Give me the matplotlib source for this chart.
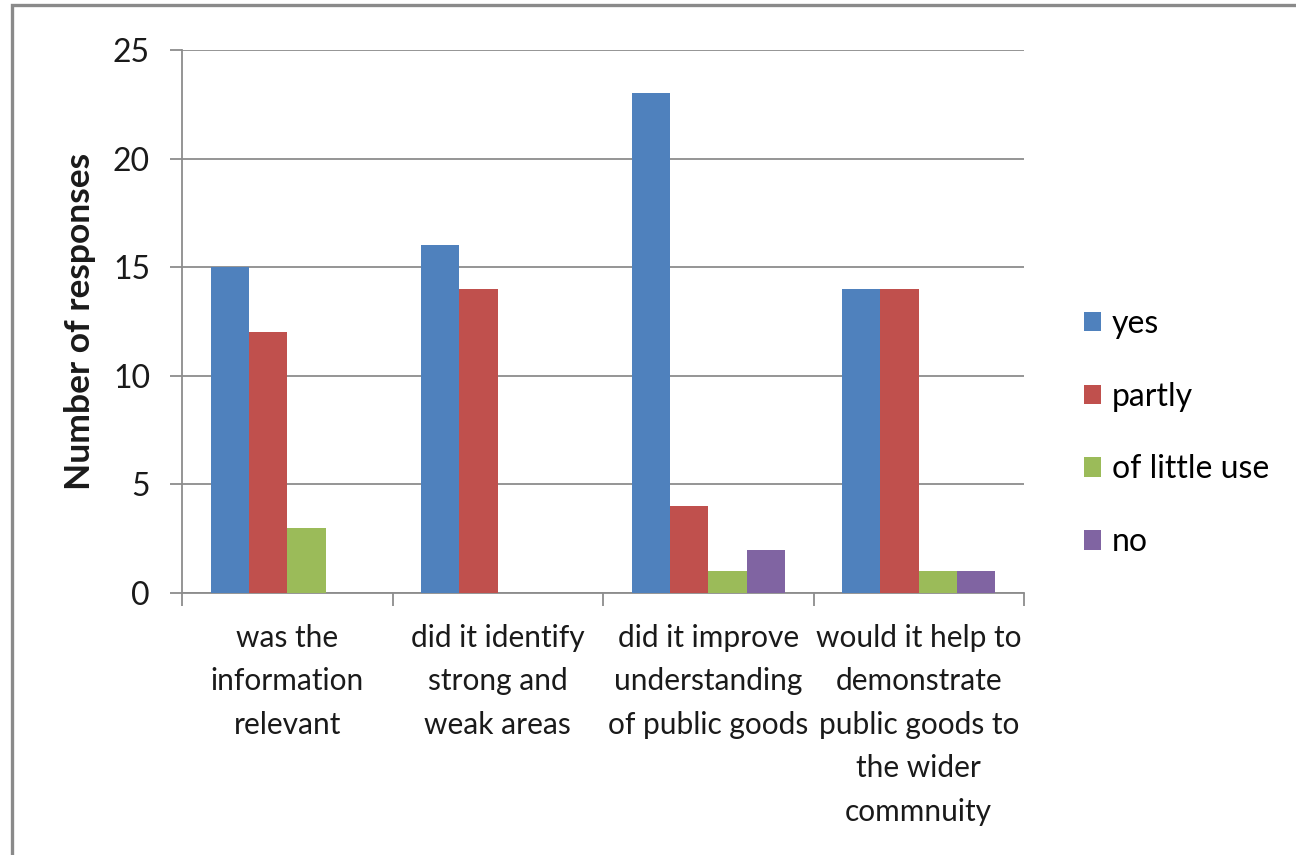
import matplotlib
matplotlib.use("Agg")
import matplotlib.pyplot as plt
from matplotlib.patches import Rectangle
import numpy as np

categories = [
    "was the\ninformation\nrelevant",
    "did it identify\nstrong and\nweak areas",
    "did it improve\nunderstanding\nof public goods",
    "would it help to\ndemonstrate\npublic goods to\nthe wider\ncommnuity",
]
series_names = ["yes", "partly", "of little use", "no"]
yes = [15, 16, 23, 14]
partly = [12, 14, 4, 14]
little_use = [3, 0, 1, 1]
no = [0, 0, 2, 1]
y_ticks = [0, 5, 10, 15, 20, 25]

colors = ["#4F81BD", "#C0504D", "#9BBB59", "#8064A2"]

plt.rcParams["font.family"] = ["Lato", "DejaVu Sans"]
FS_TICK = 23
FS_CAT = 21.5
FS_LEG = 23
FS_YLAB = 25.5

fig = plt.figure(figsize=(12.96, 8.55), dpi=100)
ax = fig.add_axes([182 / 1296, 1 - 593 / 855, 842 / 1296, 543 / 855])

x = np.arange(len(categories))
n = len(series_names)
w = 1 / (n + 1.5)
for i, (name, vals, c) in enumerate(zip(series_names, [yes, partly, little_use, no], colors)):
    ax.bar(x + (i - (n - 1) / 2) * w, vals, width=w, color=c, label=name,
           edgecolor="none", zorder=3)

ax.set_xlim(-0.5, len(categories) - 0.5)
ax.set_ylim(0, 25)
ax.set_yticks(y_ticks)
ax.yaxis.grid(True, color="#8c8c8c", linewidth=1.3, zorder=0)
ax.set_axisbelow(True)

for s in ["top", "right"]:
    ax.spines[s].set_visible(False)
for s in ["left", "bottom"]:
    ax.spines[s].set_color("#8c8c8c")
    ax.spines[s].set_linewidth(1.3)

ax.tick_params(axis="y", direction="out", length=9, width=1.3, color="#8c8c8c",
               labelsize=FS_TICK, pad=14, labelcolor="#1a1a1a")
ax.set_xticks(x)
ax.set_xticklabels(categories, fontsize=FS_CAT, color="#1a1a1a", linespacing=1.68)
ax.tick_params(axis="x", which="major", length=0, pad=22)
ax.set_xticks(np.arange(-0.5, len(categories)), minor=True)
ax.tick_params(axis="x", which="minor", direction="out", length=9, width=1.3,
               color="#8c8c8c")
for lbl in ax.get_xticklabels():
    lbl.set_verticalalignment("top")

ax.set_ylabel("Number of responses", fontsize=FS_YLAB, fontweight="bold",
              color="#1a1a1a", labelpad=12)

fig.legend(loc="center left", bbox_to_anchor=(1071 / 1296, 1 - 433 / 855),
           frameon=False, fontsize=FS_LEG, handlelength=0.55, handleheight=0.55,
           handletextpad=0.32, labelspacing=1.34, borderaxespad=0)

fig.patches.append(Rectangle((12 / 1296, -0.1), 1.2, 1 - 5 / 855 + 0.1,
                             transform=fig.transFigure, fill=False,
                             edgecolor="#8a8a8a", linewidth=2.4))

fig.savefig("out.png", dpi=100, facecolor="white")
